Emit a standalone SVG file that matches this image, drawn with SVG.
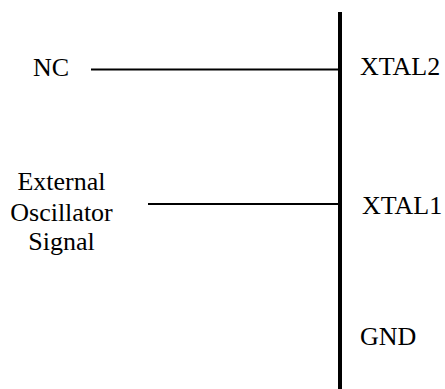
<svg xmlns="http://www.w3.org/2000/svg" width="445" height="389" viewBox="0 0 445 389">
<style>
text{font-family:"Liberation Serif","Times New Roman",serif;font-size:26px;fill:#000}
.w{stroke:#000;stroke-width:2;fill:none}
</style>
<rect width="445" height="389" fill="#fff"/>
<g id="connectors">
<line class="w" x1="91" y1="69.5" x2="340" y2="69.5"/>
<line class="w" x1="148" y1="204" x2="340" y2="204"/>
</g>
<g id="bus"><line x1="340" y1="12" x2="340" y2="389" stroke="#000" stroke-width="4"/></g>
<g id="nc"><text x="33" y="76">NC</text></g>
<g id="ext"><text text-anchor="middle" x="61.5" y="190">External</text><text text-anchor="middle" x="61.5" y="221">Oscillator</text><text text-anchor="middle" x="61.5" y="250">Signal</text></g>
<g id="xtal2"><text x="360" y="75">XTAL2</text></g>
<g id="xtal1"><text x="362" y="214">XTAL1</text></g>
<g id="gnd"><text x="360" y="345">GND</text></g>
</svg>
